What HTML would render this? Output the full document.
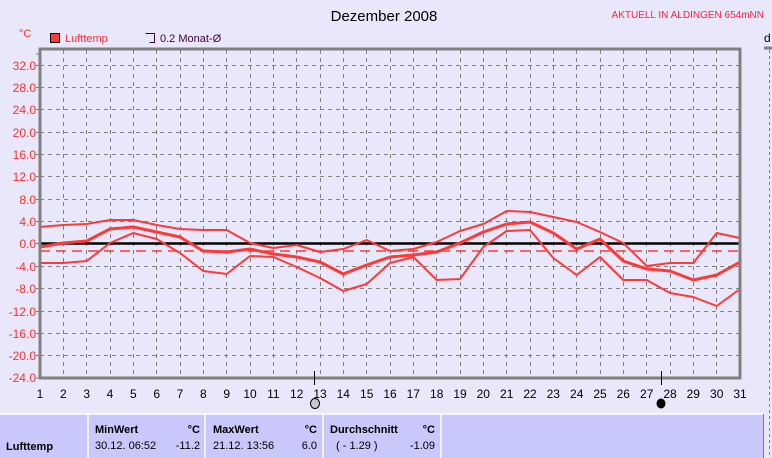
<!DOCTYPE html>
<html><head><meta charset="utf-8"><style>
html,body{margin:0;padding:0;background:#e8e8fa;}
svg{display:block;font-family:"Liberation Sans",sans-serif;}
</style></head><body>
<svg width="772" height="458" viewBox="0 0 772 458" xmlns="http://www.w3.org/2000/svg">
<rect width="772" height="458" fill="#e8e8fa"/>
<text x="384" y="21" font-size="15" text-anchor="middle" fill="#000">Dezember 2008</text>
<text x="764" y="18" font-size="10" text-anchor="end" fill="#ff2040">AKTUELL IN ALDINGEN 654mNN</text>
<text x="19" y="37" font-size="11" fill="#ff3030">°C</text>
<rect x="50.5" y="33.5" width="9" height="9" fill="#ff3838" stroke="#000"/>
<text x="65" y="42" font-size="11" fill="#ff3030">Lufttemp</text>
<path d="M145.5,33.5h9v9h-5" fill="none" stroke="#400040"/>
<text x="160" y="42" font-size="11" fill="#400040">0.2 Monat-Ø</text>
<text x="764" y="42" font-size="12" fill="#000">d</text>
<line x1="764" y1="48" x2="772" y2="48" stroke="#808080" stroke-width="3"/>
<line x1="769.5" y1="50" x2="769.5" y2="458" stroke="#808080" stroke-dasharray="3,3"/>
<g stroke="#808080" stroke-dasharray="4,4" stroke-width="1">
<path d="M40,65.5H740M40,87.5H740M40,109.5H740M40,132.5H740M40,154.5H740M40,176.5H740M40,199.5H740M40,221.5H740M40,266.5H740M40,288.5H740M40,311.5H740M40,333.5H740M40,355.5H740"/>
<path d="M63.5,50V378M86.5,50V378M110.5,50V378M133.5,50V378M156.5,50V378M180.5,50V378M203.5,50V378M226.5,50V378M250.5,50V378M273.5,50V378M296.5,50V378M320.5,50V378M343.5,50V378M366.5,50V378M390.5,50V378M413.5,50V378M436.5,50V378M460.5,50V378M483.5,50V378M506.5,50V378M530.5,50V378M553.5,50V378M576.5,50V378M600.5,50V378M623.5,50V378M646.5,50V378M670.5,50V378M693.5,50V378M716.5,50V378"/>
</g>
<g stroke="#808080" stroke-width="1"><path d="M36,54H40M36,65.5H40M36,87.5H40M36,109.5H40M36,132.5H40M36,154.5H40M36,176.5H40M36,199.5H40M36,221.5H40M36,243.5H40M36,266.5H40M36,288.5H40M36,311.5H40M36,333.5H40M36,355.5H40M36,378H40"/></g>
<line x1="40" y1="251" x2="740" y2="251" stroke="#ff3838" stroke-width="1.5" stroke-dasharray="10,6"/>
<line x1="40" y1="243.5" x2="740" y2="243.5" stroke="#000" stroke-width="2.5"/>
<g fill="none" stroke="#ff3838" stroke-linejoin="round">
<polyline stroke-width="2" points="40,227 63.3,225 86.7,224 110,220 133.3,220 156.7,225 180,229 203.3,230 226.7,230 250,243 273.3,248 296.7,245 320,252 343.3,249 366.7,240 390,251 413.3,249 436.7,242 460,231 483.3,224 506.7,211 530,212 553.3,217 576.7,222 600,232 623.3,243 646.7,266 670,263 693.3,263 716.7,233 740,238"/>
<polyline stroke-width="3" points="40,247 63.3,243 86.7,241 110,229 133.3,227 156.7,232 180,237 203.3,251 226.7,252 250,249 273.3,254 296.7,257 320,262 343.3,274 366.7,265 390,257 413.3,255 436.7,252 460,243 483.3,232 506.7,224 530,222 553.3,233 576.7,249 600,239 623.3,261 646.7,269 670,271 693.3,280 716.7,275 740,262"/>
<polyline stroke-width="2" points="40,263 63.3,263 86.7,261 110,243 133.3,233 156.7,239 180,253 203.3,271 226.7,274 250,256 273.3,257 296.7,267 320,278 343.3,291 366.7,284 390,263 413.3,257 436.7,280 460,279 483.3,247 506.7,231 530,230 553.3,258 576.7,275 600,257 623.3,280 646.7,280 670,293 693.3,297 716.7,306 740,289"/>
</g>
<path d="M40,378V49H740V378Z" fill="none" stroke="#808080" stroke-width="3"/>
<g font-size="12" fill="#ff3030" text-anchor="end">
<text x="36" y="70">32.0</text><text x="36" y="92">28.0</text><text x="36" y="114">24.0</text><text x="36" y="137">20.0</text><text x="36" y="159">16.0</text><text x="36" y="181">12.0</text><text x="36" y="204">8.0</text><text x="36" y="226">4.0</text><text x="36" y="248">0.0</text><text x="36" y="271">-4.0</text><text x="36" y="293">-8.0</text><text x="36" y="316">-12.0</text><text x="36" y="338">-16.0</text><text x="36" y="360">-20.0</text><text x="36" y="382">-24.0</text>
</g>
<g font-size="12" fill="#000" text-anchor="middle">
<text x="40" y="398">1</text><text x="63.3" y="398">2</text><text x="86.7" y="398">3</text><text x="110" y="398">4</text><text x="133.3" y="398">5</text><text x="156.7" y="398">6</text><text x="180" y="398">7</text><text x="203.3" y="398">8</text><text x="226.7" y="398">9</text><text x="250" y="398">10</text><text x="273.3" y="398">11</text><text x="296.7" y="398">12</text><text x="320" y="398">13</text><text x="343.3" y="398">14</text><text x="366.7" y="398">15</text><text x="390" y="398">16</text><text x="413.3" y="398">17</text><text x="436.7" y="398">18</text><text x="460" y="398">19</text><text x="483.3" y="398">20</text><text x="506.7" y="398">21</text><text x="530" y="398">22</text><text x="553.3" y="398">23</text><text x="576.7" y="398">24</text><text x="600" y="398">25</text><text x="623.3" y="398">26</text><text x="646.7" y="398">27</text><text x="670" y="398">28</text><text x="693.3" y="398">29</text><text x="716.7" y="398">30</text><text x="740" y="398">31</text>
</g>
<line x1="314.5" y1="371" x2="314.5" y2="385" stroke="#000"/>
<line x1="661.5" y1="371" x2="661.5" y2="385" stroke="#000"/>
<ellipse cx="315" cy="403.5" rx="4.5" ry="5" fill="#c8c8c8" stroke="#000"/>
<ellipse cx="661" cy="403.5" rx="4.5" ry="5" fill="#000"/>
<rect x="0" y="414" width="763" height="44" fill="#c8c8fa"/>
<g stroke="#fff" stroke-width="1.5"><line x1="0" y1="414" x2="763" y2="414"/><line x1="88" y1="414" x2="88" y2="458"/><line x1="205" y1="414" x2="205" y2="458"/><line x1="323" y1="414" x2="323" y2="458"/><line x1="441" y1="414" x2="441" y2="458"/></g>
<line x1="763.5" y1="414" x2="763.5" y2="458" stroke="#808080"/>
<g font-size="11" fill="#000">
<text x="6" y="450" font-weight="bold">Lufttemp</text>
<text x="95" y="433" font-weight="bold">MinWert</text><text x="200" y="433" text-anchor="end" font-weight="bold">°C</text>
<text x="95" y="449">30.12.  06:52</text><text x="200" y="449" text-anchor="end">-11.2</text>
<text x="213" y="433" font-weight="bold">MaxWert</text><text x="317" y="433" text-anchor="end" font-weight="bold">°C</text>
<text x="213" y="449">21.12.  13:56</text><text x="317" y="449" text-anchor="end">6.0</text>
<text x="330" y="433" font-weight="bold">Durchschnitt</text><text x="435" y="433" text-anchor="end" font-weight="bold">°C</text>
<text x="336" y="449">( - 1.29 )</text><text x="435" y="449" text-anchor="end">-1.09</text>
</g>
</svg>
</body></html>
